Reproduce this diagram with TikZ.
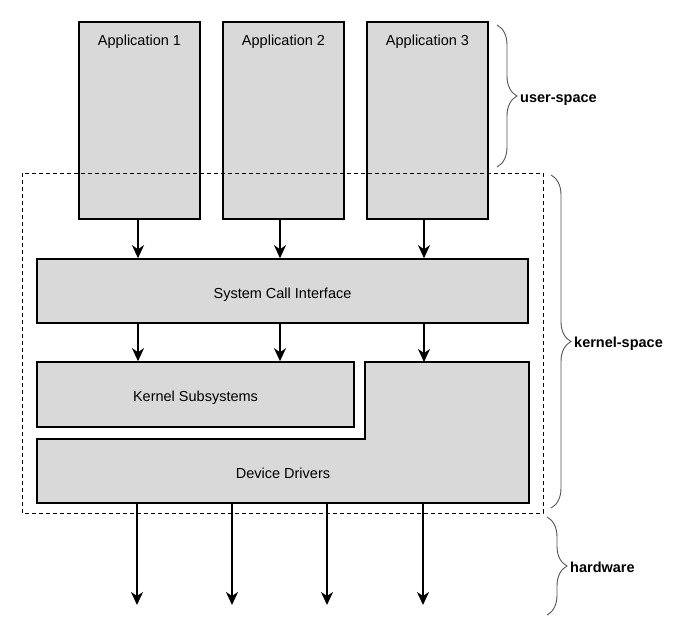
\documentclass[tikz,border=0pt]{standalone}
\usepackage{fontspec}
\setmainfont{Liberation Sans}
\usetikzlibrary{arrows.meta,positioning,decorations.pathreplacing}
\definecolor{boxgray}{HTML}{D9D9D9}
\definecolor{bracegray}{HTML}{555555}

\begin{document}
\begin{tikzpicture}[x=1pt, y=-1pt, font=\fontsize{14.5}{17}\selectfont,
   >={Stealth[length=13pt, width=12pt, inset=4pt]}]
   \useasboundingbox (0,0) rectangle (681,635);
   \tikzset{
     words/.style={text height=15pt, text depth=1pt},
     layer/.style={rectangle, draw=black, fill=boxgray, line width=1.6pt, inner sep=0pt, words},
     appbox/.style={layer, minimum width=121pt, minimum height=197pt},
     call/.style={->, line width=1.8pt},
     curly/.style={draw=bracegray, line width=0.9pt, decorate, decoration={brace, amplitude=20pt}},
     spacename/.style={anchor=west, inner sep=0pt, words, font=\fontsize{14.5}{17}\selectfont\bfseries}
   }
   % user-space applications
   \node[appbox, label={[anchor=north, yshift=-6pt, words]north:Application 1}] (app1) at (139.5,120.5) {};
   \node[appbox, label={[anchor=north, yshift=-6pt, words]north:Application 2}] (app2) at (283.5,120.5) {};
   \node[appbox, label={[anchor=north, yshift=-6pt, words]north:Application 3}] (app3) at (427.5,120.5) {};
   % kernel layers
   \node[layer, minimum width=491pt, minimum height=64pt] (sci) at (282.5,291) {System Call Interface};
   \node[layer, minimum width=317pt, minimum height=65pt] (ks) at (195.5,394.5) {Kernel Subsystems};
   \draw[fill=boxgray, line width=1.6pt] (37,439) -- (365,439) -- (365,362) -- (529,362)
      -- (529,503) -- (37,503) -- cycle;
   \node[words] (dd) at (283,471) {Device Drivers};
   \coordinate (ddtop) at (424,362);
   % kernel boundary
   \draw[line width=0.8pt, dash pattern=on 4pt off 3pt] (22,173) rectangle (543,513);
   % calls
   \draw[call] (app1.south -| 138,0) -- (sci.north -| 138,0);
   \draw[call] (app2.south -| 280,0) -- (sci.north -| 280,0);
   \draw[call] (app3.south -| 424,0) -- (sci.north -| 424,0);
   \draw[call] (sci.south -| 138,0) -- (ks.north -| 138,0);
   \draw[call] (sci.south -| 280,0) -- (ks.north -| 280,0);
   \draw[call] (sci.south -| ddtop) -- (ddtop);
   \foreach \i/\x in {1/137, 2/232, 3/327, 4/423} {
     \coordinate (dd\i) at (\x,503);
     \coordinate (hw\i) at (\x,605);
     \draw[call] (dd\i) -- (hw\i);
   }
   % spaces
   \draw[curly] (497,25) -- (497,167);
   \node[spacename] (us) at (520,95) {user-space};
   \draw[curly] (551,175) -- (551,508);
   \node[spacename] (kspace) at (574,340) {kernel-space};
   \draw[curly] (547,517) -- (547,615);
   \node[spacename] (hw) at (570,565) {hardware};
\end{tikzpicture}
\end{document}
